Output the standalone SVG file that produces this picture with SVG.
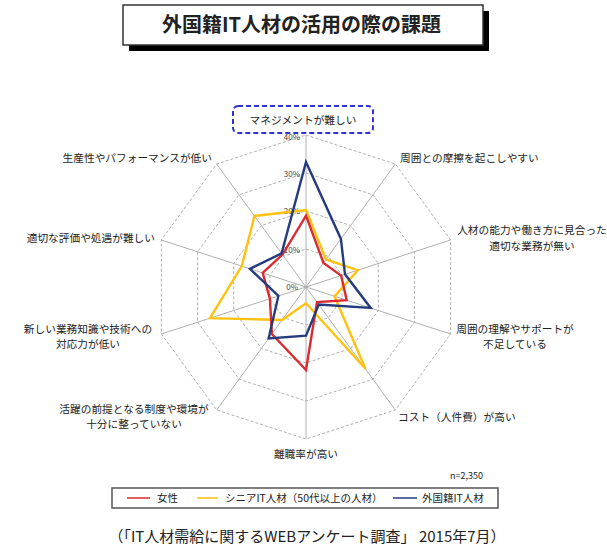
<svg xmlns="http://www.w3.org/2000/svg" width="607" height="545" viewBox="0 0 607 545">
<style>
  text { font-family: "Noto Sans CJK JP", "Noto Sans", sans-serif; fill: #222; }
  .lbl { font-size: 10.7px; }
  .pct { font-size: 8px; text-anchor: end; fill: #444; }
  .spoke { stroke: #b0b0b0; stroke-width: 1; fill: none; }
  .ring { stroke: #b0b0b0; stroke-width: 1; stroke-dasharray: 3 2; fill: none; }
  .ser { fill: none; stroke-width: 2.4; stroke-linejoin: miter; }
  .red { stroke: #d92b30; }
  .yel { stroke: #ffc20e; }
  .blu { stroke: #243b7e; }
  .leg { font-size: 10.5px; }
</style>
<rect width="607" height="545" fill="#fff"/>

<g id="title">
  <rect x="129" y="11" width="360" height="40" fill="#000"/>
  <rect x="123" y="5" width="360" height="40" fill="#fff" stroke="#333" stroke-width="1.5"/>
  <text x="301.5" y="32" text-anchor="middle" font-size="20" font-weight="bold">外国籍IT人材の活用の際の課題</text>
</g>

<g id="grid">
  <g class="spoke">
    <line x1="306" y1="287" x2="306" y2="135"/>
    <line x1="306" y1="287" x2="395.3" y2="164"/>
    <line x1="306" y1="287" x2="450.6" y2="240"/>
    <line x1="306" y1="287" x2="450.6" y2="334"/>
    <line x1="306" y1="287" x2="395.3" y2="410"/>
    <line x1="306" y1="287" x2="306" y2="439"/>
    <line x1="306" y1="287" x2="216.7" y2="410"/>
    <line x1="306" y1="287" x2="161.4" y2="334"/>
    <line x1="306" y1="287" x2="161.4" y2="240"/>
    <line x1="306" y1="287" x2="216.7" y2="164"/>
  </g>
  <polygon class="ring" points="306,135 395.3,164 450.6,240 450.6,334 395.3,410 306,439 216.7,410 161.4,334 161.4,240 216.7,164"/>
  <polygon class="ring" points="306,173 373,194.8 414.4,251.8 414.4,322.2 373,379.2 306,401 239,379.2 197.6,322.2 197.6,251.8 239,194.8"/>
  <polygon class="ring" points="306,211 350.7,225.5 378.3,263.5 378.3,310.5 350.7,348.5 306,363 261.3,348.5 233.7,310.5 233.7,263.5 261.3,225.5"/>
  <polygon class="ring" points="306,249 328.3,256.3 342.1,275.3 342.1,298.7 328.3,317.7 306,325 283.7,317.7 269.9,298.7 269.9,275.3 283.7,256.3"/>
  <text class="pct" x="300" y="140">40%</text>
  <text class="pct" x="300" y="177">30%</text>
  <text class="pct" x="300" y="214">20%</text>
  <text class="pct" x="300" y="253">10%</text>
  <text class="pct" x="298" y="290">0%</text>
</g>

<g id="connectors">
  <polygon id="series-senior" class="ser yel" points="306,210 326,259.5 357.8,270.2 334.5,296.5 365.4,368.7 306,303.3 282,320 209.9,318.2 241.8,266.1 254.4,216"/>
  <polygon id="series-women" class="ser red" points="306,215.7 323.5,263 341.2,275.6 346.7,300.2 317,302.1 306,370 271.9,334 269.9,298.7 262.7,272.9 282.5,254.6"/>
  <polygon id="series-foreign" class="ser blu" points="306,162 340.9,238.9 345,274.3 370.7,308 318.8,304.6 306,335.7 268.6,338.5 278.4,296 249.9,268.8 281.6,253.4"/>
</g>

<g id="axis-0">
  <rect x="233" y="106" width="140" height="27" rx="5" fill="#fff" stroke="#3333cc" stroke-width="2" stroke-dasharray="5 3"/>
  <text class="lbl" x="303" y="124" text-anchor="middle">マネジメントが難しい</text>
</g>
<g id="axis-1"><text class="lbl" x="400" y="162">周囲との摩擦を起こしやすい</text></g>
<g id="axis-2">
  <text class="lbl" x="532" y="234" text-anchor="middle">人材の能力や働き方に見合った</text>
  <text class="lbl" x="532" y="250" text-anchor="middle">適切な業務が無い</text>
</g>
<g id="axis-3">
  <text class="lbl" x="515" y="333" text-anchor="middle">周囲の理解やサポートが</text>
  <text class="lbl" x="515" y="348" text-anchor="middle">不足している</text>
</g>
<g id="axis-4"><text class="lbl" x="398" y="421">コスト（人件費）が高い</text></g>
<g id="axis-5"><text class="lbl" x="306" y="458" text-anchor="middle">離職率が高い</text></g>
<g id="axis-6">
  <text class="lbl" x="134" y="413" text-anchor="middle">活躍の前提となる制度や環境が</text>
  <text class="lbl" x="134" y="428" text-anchor="middle">十分に整っていない</text>
</g>
<g id="axis-7">
  <text class="lbl" x="88" y="333" text-anchor="middle">新しい業務知識や技術への</text>
  <text class="lbl" x="88" y="348" text-anchor="middle">対応力が低い</text>
</g>
<g id="axis-8"><text class="lbl" x="155" y="242" text-anchor="end">適切な評価や処遇が難しい</text></g>
<g id="axis-9"><text class="lbl" x="212" y="162" text-anchor="end">生産性やパフォーマンスが低い</text></g>

<g id="note"><text x="450" y="479" font-size="9">n=2,350</text></g>

<g id="legend">
  <rect x="112" y="488" width="386" height="20" fill="#fff" stroke="#555" stroke-width="1.5"/>
  <line x1="127" y1="498" x2="150" y2="498" stroke="#d92b30" stroke-width="1.5"/>
  <text class="leg" x="157" y="502">女性</text>
  <line x1="197" y1="498" x2="218" y2="498" stroke="#ffc20e" stroke-width="1.5"/>
  <text class="leg" x="225" y="502">シニアIT人材（50代以上の人材）</text>
  <line x1="393" y1="498" x2="417" y2="498" stroke="#243b7e" stroke-width="1.5"/>
  <text class="leg" x="422" y="502">外国籍IT人材</text>
</g>

<g id="caption"><text x="307" y="542" text-anchor="middle" font-size="15" fill="#333">（「IT人材需給に関するWEBアンケート調査」 2015年7月）</text></g>
</svg>
